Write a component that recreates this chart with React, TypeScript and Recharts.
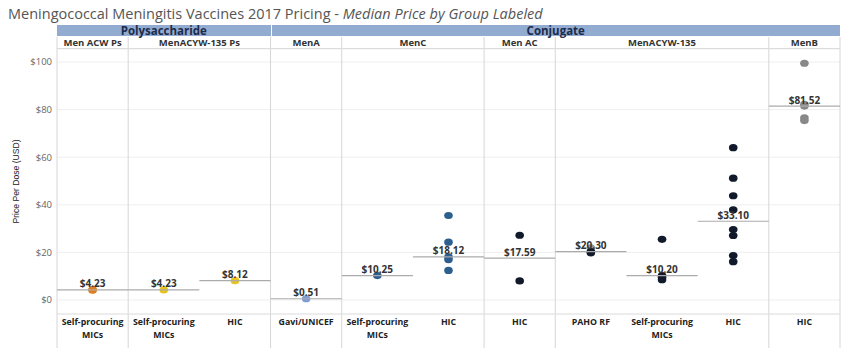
import { CartesianGrid, ReferenceLine, Scatter, ScatterChart, XAxis, YAxis } from "recharts";

// tick labels / headers
const categories = [
    "Self-procuring MICs", "Self-procuring MICs", "HIC", "Gavi/UNICEF", "Self-procuring MICs", "HIC",
    "HIC", "PAHO RF", "Self-procuring MICs", "HIC", "HIC",
];
const typeNames = ["Polysaccharide", "Conjugate"];
const typeSpans = [3, 8];
const groupNames = ["Men ACW Ps", "MenACYW-135 Ps", "MenA", "MenC", "Men AC", "MenACYW-135", "MenB"];
const groupSpans = [1, 2, 1, 2, 1, 3, 1];
const yTicks = [0, 20, 40, 60, 80, 100];

// median per column
const medians = [4.23, 4.23, 8.12, 0.51, 10.25, 18.12, 17.59, 20.3, 10.2, 33.1, 81.52];

// prices per column (USD per dose)
const menAcwPsMics = [4.1, 4.35];
const menAcywPsMics = [4.23];
const menAcywPsHic = [8.12];
const menAGavi = [0.51];
const menCMics = [10.25];
const menCHic = [35.5, 24.3, 18.12, 17.0, 12.4];
const menAcHic = [27.2, 8.0];
const pahoGray = [21.9];
const pahoDark = [20.3, 19.8];
const menAcywMics = [25.5, 10.2, 9.4, 8.5];
const menAcywHic = [64.0, 51.2, 43.8, 37.9, 29.6, 27.1, 18.7, 16.1];
const menBHic = [99.5, 82.2, 81.52, 76.6, 75.4];

const series = [
    { col: 0, values: menAcwPsMics, color: "#e07d1f" },
    { col: 1, values: menAcywPsMics, color: "#e9c21c" },
    { col: 2, values: menAcywPsHic, color: "#e9c21c" },
    { col: 3, values: menAGavi, color: "#7e9dd2" },
    { col: 4, values: menCMics, color: "#2c5e8e" },
    { col: 5, values: menCHic, color: "#2c5e8e" },
    { col: 6, values: menAcHic, color: "#111a2b" },
    { col: 7, values: pahoGray, color: "#999999" },
    { col: 7, values: pahoDark, color: "#111a2b" },
    { col: 8, values: menAcywMics, color: "#111a2b" },
    { col: 9, values: menAcywHic, color: "#111a2b" },
    { col: 10, values: menBHic, color: "#888888" },
];

const W = 842;
const H = 344;
const TOP = 41;
const RIGHT = 10;
const Y_W = 49;
const X_H = 38;
const PLOT_W = W - RIGHT - Y_W;
const PLOT_H = H - TOP - X_H;
const COL_W = PLOT_W / categories.length;
const Y_MIN = -5.9;
const Y_MAX = 105.5;
const valueAt = (py: number) => Y_MAX - ((py - TOP) / PLOT_H) * (Y_MAX - Y_MIN);

const font = "'Open Sans', sans-serif";

const medianData = medians.map((m, i) => ({ x: i, y: m }));

const boundaries: number[] = [-0.5];
groupSpans.forEach((s, i) => boundaries.push(boundaries[i] + s));

const Dot = (props: any) => (
    <ellipse cx={props.cx} cy={props.cy} rx={4.3} ry={3.6} fill={props.fill} />
);

const MedianMark = (props: any) => {
    const { cx, cy, payload } = props;
    return (
        <g>
            <line x1={cx - COL_W / 2} x2={cx + COL_W / 2} y1={cy} y2={cy} stroke="#ababab" strokeWidth={1.2} />
            <text x={cx} y={cy - 2.5} textAnchor="middle" fontSize={10} fontWeight={700} fill="#333">
                ${payload.y.toFixed(2)}
            </text>
        </g>
    );
};

const CategoryTick = (props: any) => {
    const { x, y, payload } = props;
    const label = categories[payload.value] || "";
    const parts = label.startsWith("Self-procuring") ? ["Self-procuring", "MICs"] : [label];
    return (
        <g>
            {parts.map((p, i) => (
                <text key={i} x={x} y={y + 9 + i * 12.5} textAnchor="middle" fontSize={8.8} fontWeight={700} fill="#222">
                    {p}
                </text>
            ))}
        </g>
    );
};

export default function App() {
    return (
        <div style={{ position: "relative", width: W, height: H, fontFamily: font }}>
            <ScatterChart width={W} height={H} margin={{ top: TOP, right: RIGHT, bottom: 0, left: 0 }}>
                <CartesianGrid vertical={false} stroke="#efefef" />
                <XAxis
                    type="number"
                    dataKey="x"
                    domain={[-0.5, categories.length - 0.5]}
                    ticks={categories.map((_, i) => i)}
                    tick={<CategoryTick />}
                    tickLine={false}
                    tickSize={0}
                    height={X_H}
                    axisLine={{ stroke: "#e2e2e2" }}
                    interval={0}
                />
                <YAxis
                    type="number"
                    dataKey="y"
                    domain={[Y_MIN, Y_MAX]}
                    ticks={yTicks}
                    tickFormatter={(v) => `$${v}`}
                    width={Y_W}
                    axisLine={false}
                    tickLine={false}
                    tickSize={0}
                    tickMargin={5}
                    tick={{ fontSize: 9.5, fill: "#666" }}
                    label={{
                        value: "Price Per Dose (USD)",
                        angle: -90,
                        position: "insideLeft",
                        offset: 8,
                        style: { fontSize: 8.6, fill: "#222", fontFamily: "'Liberation Sans Narrow', sans-serif", textAnchor: "middle" },
                    }}
                />
                {boundaries.map((b) => (
                    <ReferenceLine
                        key={b}
                        segment={[{ x: b, y: valueAt(29) }, { x: b, y: valueAt(340) }]}
                        stroke="#d6d6d6"
                        ifOverflow="visible"
                    />
                ))}
                {series.map((s, i) => (
                    <Scatter
                        key={i}
                        data={s.values.map((v) => ({ x: s.col, y: v }))}
                        fill={s.color}
                        shape={<Dot />}
                        isAnimationActive={false}
                    />
                ))}
                <Scatter data={medianData} shape={<MedianMark />} isAnimationActive={false} />
            </ScatterChart>

            <div style={{ position: "absolute", left: 0, top: -3, fontSize: 14.5, lineHeight: "18px", color: "#555", whiteSpace: "nowrap" }}>
                Meningococcal Meningitis Vaccines 2017 Pricing - <i>Median Price by Group Labeled</i>
            </div>
            <div style={{ position: "absolute", left: Y_W, top: 17, width: PLOT_W, height: 11, display: "flex" }}>
                {typeNames.map((t, i) => (
                    <div
                        key={t}
                        style={{
                            width: typeSpans[i] * COL_W,
                            background: "#92abd0",
                            borderLeft: i > 0 ? "1px solid #fff" : "none",
                            boxSizing: "border-box",
                            textAlign: "center",
                            fontSize: 11.5,
                            fontWeight: 700,
                            lineHeight: "11px",
                            color: "#1d2c4c",
                        }}
                    >
                        {t}
                    </div>
                ))}
            </div>
            <div
                style={{
                    position: "absolute",
                    left: Y_W,
                    top: 29,
                    width: PLOT_W,
                    height: 11,
                    display: "flex",
                    borderBottom: "1px solid #dcdcdc",
                }}
            >
                {groupNames.map((g, i) => (
                    <div
                        key={g}
                        style={{
                            width: groupSpans[i] * COL_W,
                            textAlign: "center",
                            fontSize: 9.5,
                            fontWeight: 700,
                            lineHeight: "12px",
                            color: "#333",
                        }}
                    >
                        {g}
                    </div>
                ))}
            </div>
        </div>
    );
}
